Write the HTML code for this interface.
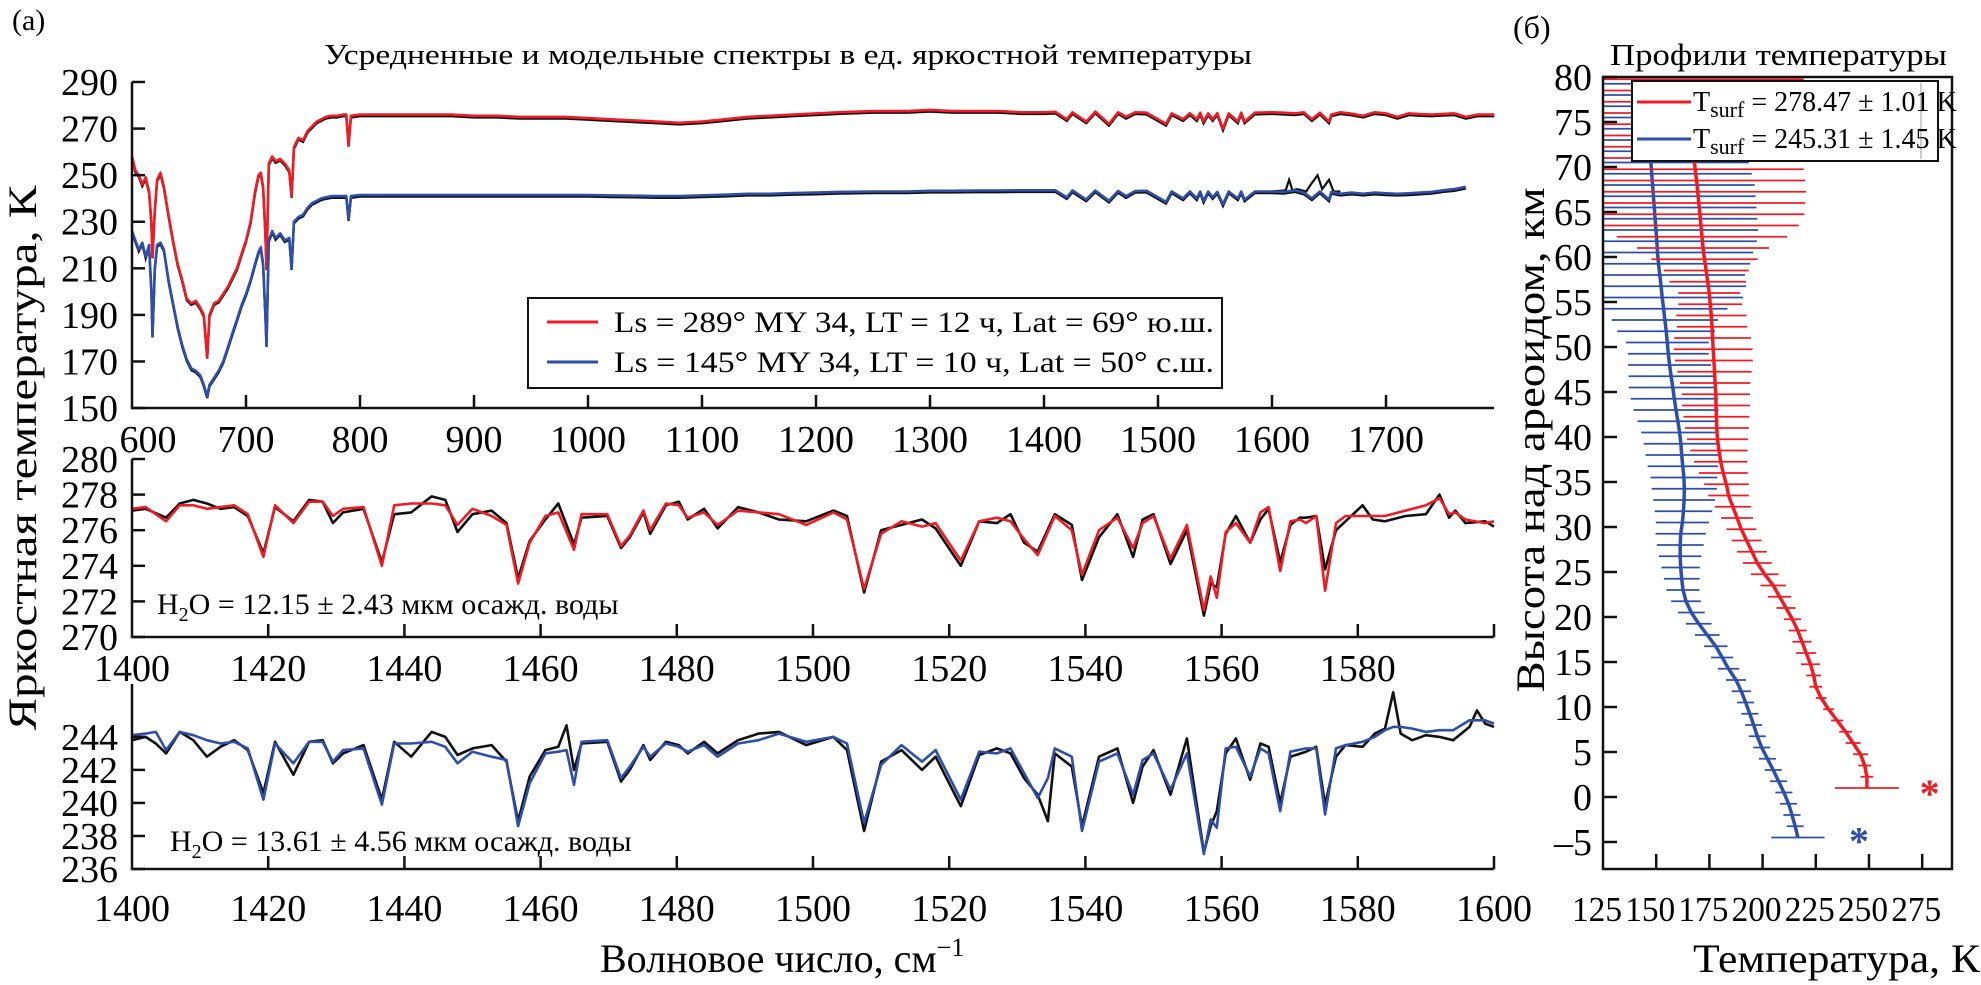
<!DOCTYPE html>
<html><head><meta charset="utf-8">
<style>
html,body{margin:0;padding:0;background:#fff;}
svg{display:block;font-family:"Liberation Serif",serif;}
</style></head>
<body>
<svg id="fig" width="1981" height="985" viewBox="0 0 1981 985" xmlns="http://www.w3.org/2000/svg">
<rect x="0" y="0" width="1981" height="985" fill="#fff"/>
<text x="12" y="30" font-size="30">(a)</text>
<text x="1513" y="38" font-size="32">(б)</text>
<text x="324" y="64" font-size="29" textLength="928" lengthAdjust="spacingAndGlyphs">Усредненные и модельные спектры в ед. яркостной температуры</text>
<text x="1610" y="65" font-size="31" textLength="337" lengthAdjust="spacingAndGlyphs">Профили температуры</text>
<text transform="translate(36,458) rotate(-90)" text-anchor="middle" font-size="40" textLength="545" lengthAdjust="spacingAndGlyphs">Яркостная температура, К</text>
<text x="600" y="972" font-size="40">Волновое число, см<tspan dy="-16" font-size="26">−1</tspan></text>
<text transform="translate(1544,440) rotate(-90)" text-anchor="middle" font-size="40" textLength="505" lengthAdjust="spacingAndGlyphs">Высота над ареоидом, км</text>
<text x="1693" y="972" font-size="40" textLength="287" lengthAdjust="spacingAndGlyphs">Температура, К</text>
<g id="plots"></g>
</svg>
<script>
// ---------- Top panel data ----------
const topRedWn = [600,603,606,609,612,615,617,618,620,622,625,628,632,636,640,644,648,652,656,660,663,666,668,672,676,680,684,688,692,696,700,704,708,711,713,715,717,718,720,723,726,730,734,738,740,742,746,750,754,758,762,766,770,775,780,785,788,790,792,800,820,840,860,880,900,920,940,960,980,1000,1020,1040,1060,1080,1100,1120,1140,1160,1180,1200,1220,1250,1280,1300,1320,1340,1360,1380,1400,1410,1420,1425,1437,1445,1457,1465,1472,1480,1490,1507,1512,1522,1528,1534,1537,1540,1544,1548,1552,1557,1562,1570,1573,1576,1585,1600,1610,1620,1628,1635,1642,1650,1652,1660,1670,1680,1690,1700,1710,1720,1730,1740,1750,1760,1770,1780,1795];
const topRedT = [258,252,250,246,249,243,230,215,235,248,251,245,233,222,212,205,197,195,196,193,190,172,190,195,196,199,202,206,210,216,222,230,243,250,251,245,225,210,255,258,256,257,255,252,241,262,266,265,269,271,273,274,275,275.5,275.5,276,276,263,275.5,276,276,276,276,276,275.5,275.5,275,275,275,274.5,274,273.5,273,272.5,273,274,275,275.5,276,276.5,277,277.5,277.5,278,277.5,277.5,277.5,277,277,277.2,274,277,273,277.3,272,277,275,277,276.8,272,276.5,274,276.6,274,276.8,273,276.5,274,276.6,270,276.5,273,276.8,273,276.8,277,276.8,276.5,277,274,276.8,273,276,277,276.4,275.5,277,276.5,275,276.5,276.2,276,276.3,276.5,275,276,276];
const topBlueWn = topRedWn;
const topBlueT = [226,222,218,221,215,220,200,181,210,220,221,218,205,195,185,177,171,167,166,164,160,155,160,163,166,170,176,182,188,194,199,205,212,217,219,212,190,177,222,226,223,225,222,223,210,230,232,233,236,238,239,240,240.5,241,241,241,241,231,241,241.5,241.5,241.5,241.5,241.5,241.5,241.5,241.5,241.5,241.5,241.5,241.3,241.2,241,241,241.3,241.6,242,242,242.3,242.5,242.8,243,243,243.3,243.3,243.4,243.4,243.5,243.5,243.5,240.5,243.4,239.5,243.4,239,243.2,241,243.2,243.3,238.5,243,240,243,240,243,239,243,240.5,242.8,237.5,243,240,243,239.5,243,243,242.8,243.5,242.5,240,243,239.5,242.8,242,242.5,242,242.5,242.2,242,242.2,242.5,242.8,243.5,244,245];
const topBlackWn = [1600,1612,1615,1618,1622,1630,1634,1640,1644,1650,1654,1660];
const topBlackBlueT = [243,243.5,248,243.5,244,243,246,250,244,248,243,243];
// ---------- Middle panel ----------
const midWn = [1400,1402,1405,1407,1409,1411,1413,1415,1417,1419.3,1421,1423.7,1426,1428,1429.5,1431,1434,1436.7,1438.5,1441,1444,1446,1447.8,1450,1452.8,1455,1456.7,1458.4,1460.7,1462.6,1464.9,1466,1469.8,1471.8,1473.1,1475.1,1476.1,1478.4,1480.3,1481.6,1484,1486,1489,1492,1495,1499,1503,1505,1507.5,1510,1513,1516,1518,1521.7,1524.4,1527,1529,1531,1533,1535.5,1538,1539.5,1542,1544.7,1547,1548.4,1550,1552.5,1554.9,1557.4,1558.4,1559.3,1560.6,1562.1,1564.2,1565.7,1566.9,1568.6,1570.1,1571.5,1572.4,1573.9,1575.2,1576.8,1578.2,1580.7,1582.2,1584,1587,1590,1592,1593.4,1594.3,1595.8,1598.7,1600];
const midModel = [277.2,277.3,276.5,277.4,277.4,277.2,277.3,277.4,276.9,274.5,277.4,276.4,277.6,277.6,276.8,277.2,277.3,274.0,277.4,277.5,277.5,277.4,276.3,277.2,276.8,276.3,273.0,275.3,276.8,277.0,274.9,276.9,276.9,275.1,275.7,277.1,276.0,277.5,277.4,276.7,277.0,276.3,277.1,277.0,276.9,276.3,277.0,276.6,272.7,275.8,276.5,276.2,276.4,274.3,276.5,276.7,276.5,275.5,274.6,276.8,276.0,273.5,276.0,276.7,275.0,276.4,276.8,274.4,276.3,271.5,273.4,272.2,275.9,276.4,275.3,277.0,277.3,273.7,276.5,276.6,276.4,276.8,272.6,276.4,276.8,276.8,276.8,276.8,277.1,277.4,277.8,276.9,277.0,276.6,276.4,276.5];
const midObs = [277.1,277.2,276.7,277.5,277.7,277.5,277.2,277.3,276.8,274.7,277.3,276.5,277.7,277.6,276.4,277.0,277.2,274.2,276.9,277.0,277.9,277.7,275.9,276.9,277.1,276.4,273.3,275.4,276.6,277.5,275.2,276.7,276.8,275.0,275.6,277.0,275.8,277.4,277.6,276.6,277.2,276.1,277.3,277.0,276.6,276.5,277.1,276.8,272.5,276.0,276.3,276.6,276.1,274.0,276.5,276.4,276.9,275.3,274.8,276.9,276.3,273.2,275.6,276.9,274.5,276.6,276.9,274.1,276.0,271.2,273.0,272.8,275.8,276.8,275.3,276.6,277.2,274.2,276.3,276.7,276.7,276.8,273.8,276.0,276.5,277.4,276.6,276.5,276.8,276.9,278.0,276.7,277.1,276.4,276.5,276.2];
const midTicksX = [1400,1420,1440,1460,1480,1500,1520,1540,1560,1580];
const midTicksY = [270,272,274,276,278,280];
// ---------- Bottom panel ----------
const botWn = [1400,1402,1403.5,1405,1407,1409,1411,1413,1415,1417,1419.3,1421,1423.7,1426,1428,1429.5,1431,1434,1436.7,1438.5,1441,1444,1446,1447.8,1450,1452.8,1455,1456.7,1458.4,1460.7,1462.6,1463.8,1464.9,1466,1469.8,1471.8,1473.1,1475.1,1476.1,1478.4,1480.3,1481.6,1484,1486,1489,1492,1495,1499,1503,1505,1507.5,1510,1513,1516,1518,1521.7,1524.4,1527,1529,1531,1533,1534.5,1535.5,1538,1539.5,1542,1544.7,1547,1548.4,1550,1552.5,1554.9,1557.4,1558.4,1559.3,1560.6,1562.1,1564.2,1565.7,1566.9,1568.6,1570.1,1572.4,1573.9,1575.2,1576.8,1578.2,1580.7,1582.5,1584,1585.2,1586.3,1588,1590,1592,1594,1596.4,1597.5,1598.7,1600];
const botModel = [244.1,244.2,244.3,243.2,244.3,244.1,243.8,243.6,243.7,243.3,240.2,243.6,242.4,243.7,243.7,242.5,243.2,243.3,239.9,243.6,243.6,243.7,243.4,242.4,243.1,242.8,242.6,238.6,241.2,243.0,243.1,243.2,241.1,243.7,243.8,241.5,242.2,243.4,242.8,243.6,243.4,243.1,243.5,242.8,243.6,243.8,244.2,243.7,244.0,243.6,238.8,242.3,243.5,242.5,243.2,240.2,243.1,243.0,243.3,241.8,240.3,241.5,243.3,242.8,238.3,242.5,243.0,240.5,242.6,243.0,240.8,243.0,236.9,239.0,238.5,243.3,243.4,241.6,243.3,243.0,239.5,243.1,243.3,243.3,239.3,243.3,243.5,243.7,244.0,244.4,244.6,244.6,244.5,244.3,244.4,244.4,245.0,245.0,245.0,244.8];
const botObs = [243.8,244.0,243.6,243.0,244.3,243.8,242.8,243.4,243.8,243.2,240.6,243.7,241.7,243.7,243.8,242.4,243.0,243.5,240.2,243.7,242.8,244.3,244.0,242.9,243.3,243.5,242.5,238.9,241.6,243.2,243.4,244.7,242.0,243.6,243.7,241.3,242.0,243.5,242.6,243.7,243.5,243.0,243.7,243.0,243.8,244.2,244.3,243.5,244.0,243.2,238.3,242.5,243.2,242.0,242.8,239.8,242.9,243.3,243.0,241.5,240.5,238.9,243.0,242.2,238.6,242.8,243.3,240.0,242.2,243.2,240.5,243.9,237.0,238.6,239.5,243.0,243.9,241.4,243.6,243.4,240.0,242.8,243.1,243.4,239.9,242.8,243.5,243.4,244.2,244.5,246.7,244.2,243.8,244.1,244.0,243.8,244.6,245.6,244.8,244.6];
const botTicksY = [236,238,240,242,244];
const topTicksX = [600,700,800,900,1000,1100,1200,1300,1400,1500,1600,1700];
const topTicksY = [150,170,190,210,230,250,270,290];
// ---------- Panel b profiles ----------
const redAlt = [1,2.25,3.5,4.75,6,7.25,8.5,9.75,11,12.25,13.5,14.75,16,17.25,18.5,19.75,21,22.25,23.5,24.75,26,27.25,28.5,29.75,31,32.25,33.5,34.75,36,37.25,38.5,39.75,41,42.25,43.5,44.75,46,47.25,48.5,49.75,51,52.25,53.5,54.75,56,57.25,58.5,59.75,61,62.25,63.5,64.75,66,67.25,68.5,69.75,71,72.25,73.5,74.75,76,77.25,78.5,79.75];
const redTemp = [249,249,248,246,242.5,239,235,231,227.5,225,224,222.5,220.5,218.5,216.5,214,211,208,205,201,197.5,195,192.5,190,188,186,184,183,181.5,180.3,179.5,178.8,178.5,178.3,178.1,178,177.7,177.4,177.1,176.8,176.5,176.2,175.9,175.4,174.9,174.2,173.5,172.7,172,171.5,171,170.6,170,169.5,169,168.3,167.8,167.3,166.8,166.3,165.8,165.3,164.8,164.3];
const redErr = [15,3,3,3.5,3.5,3,2.8,2.5,2.5,3,3.5,4.5,4.7,4.5,4.2,4,4.5,5.5,6,6.5,6.8,7,7,7,7.5,8.5,9.5,10.5,11.5,12.5,13.5,14.3,15,15.5,16,16,16.5,17.5,18.3,18.5,18,16.5,16.5,15,14.5,18,20,25,31,40,46,49,50,51,51,51,55,55,55,55,55,55,55,55];
const blueAlt = [-4.5,-3.25,-2,-0.75,0.5,1.75,3,4.25,5.5,6.75,8,9.25,10.5,11.75,13,14.25,15.5,16.75,18,19.25,20.5,21.75,23,24.25,25.5,26.75,28,29.25,30.5,31.75,33,34.25,35.5,36.75,38,39.25,40.5,41.75,43,44.25,45.5,46.75,48,49.25,50.5,51.75,53,54.25,55.5,56.75,58,59.25,60.5,61.75,63,64.25,65.5,66.75,68,69.25,70.5,71.75,73,74.25,75.5,76.75,78,79.25];
const blueTemp = [216.6,215.3,213.8,212.2,210,207.5,205,202.3,199.6,197.5,195.8,194,192,190,187.5,184,181,178,174,170,166.5,164,162.6,162,161.5,161.3,161.3,161.5,162.3,162.8,163.1,163.2,163,162.5,162,161.6,161,160.2,159.3,158.5,157.8,157,156.3,155.7,155.2,154.7,154.1,153.5,152.8,152.3,151.7,151.1,150.6,150.3,149.9,149.5,149.1,148.7,148.3,147.9,147.5,147.2,146.9,146.6,146.3,146,145.7,145.4];
const blueErr = [12.5,4,4,4,4,4,4,4,4,4,4,4,4,4.5,4.7,5,5.2,5.5,5.8,6,6.3,7,7.8,8.4,9,10,11,11.8,12.5,13.5,14.5,15.3,15.7,16.5,17,17.5,18,19,20,20.5,20.7,20,19.5,19,19.5,23,25,30,38,40,40,43,45,47,48,48,48,48,48,47,46,50,50,50,50,50,50,50];
const surfT = [278.47,245.31];
const surfAlt = [0.9,-4.4];
const profTicksX = [125,150,175,200,225,250,275];
const profTicksY = [-5,0,5,10,15,20,25,30,35,40,45,50,55,60,65,70,75,80];

const NS = "http://www.w3.org/2000/svg";
const G = document.getElementById('plots');
function mk(tag, attrs, parent){ const e=document.createElementNS(NS,tag); for(const k in attrs) e.setAttribute(k,attrs[k]); (parent||G).appendChild(e); return e; }
function txt(str, attrs, parent){ const e=mk('text',attrs,parent); e.textContent=str; return e; }
function poly(xs, ys, fx, fy){ return xs.map((v,i)=>fx(v).toFixed(1)+','+fy(ys[i]).toFixed(1)).join(' '); }
const RED="#ee1c25", BLUE="#2e4ea8", BLK="#111";
const TF = 38;

// ---------- top panel ----------
const tX = w => 132 + (w-600)*1.14;
const tY = t => 82 + (290-t)*2.329;
let g = mk('g',{});


let e = mk('polyline',{points:poly(topRedWn,topRedT.map(v=>v-0.7),tX,tY),fill:'none',stroke:BLK,'stroke-width':2.4},g);
 
e = mk('polyline',{points:poly(topBlueWn,topBlueT.map(v=>v-0.7),tX,tY),fill:'none',stroke:BLK,'stroke-width':2.4},g);
 
e = mk('polyline',{points:poly(topBlackWn,topBlackBlueT,tX,tY),fill:'none',stroke:BLK,'stroke-width':2.2},g);
 
e = mk('polyline',{points:poly(topRedWn,topRedT,tX,tY),fill:'none',stroke:RED,'stroke-width':2.6,'stroke-linejoin':'round'},g);
 
e = mk('polyline',{points:poly(topBlueWn,topBlueT,tX,tY),fill:'none',stroke:BLUE,'stroke-width':2.6,'stroke-linejoin':'round'},g);
 
mk('path',{d:'M132,82 V408 H1494',fill:'none',stroke:BLK,'stroke-width':2.5},g);
topTicksY.forEach(v=>{ mk('line',{x1:132,x2:145,y1:tY(v),y2:tY(v),stroke:BLK,'stroke-width':2.5},g);
  const t=txt(String(v),{x:118,y:tY(v)+13,'text-anchor':'end','font-size':TF},g);
    });
topTicksX.forEach(v=>{ if(v>600) mk('line',{x1:tX(v),x2:tX(v),y1:408,y2:395,stroke:BLK,'stroke-width':2.5},g);
  const t=txt(String(v),{x:tX(v)+(v===600?16:0),y:452,'text-anchor':'middle','font-size':TF},g);
    });
let lg = mk('g',{},g);
 
mk('rect',{x:528,y:298,width:694,height:90,fill:'#fff',stroke:BLK,'stroke-width':2},lg);
mk('line',{x1:547,x2:598,y1:322,y2:322,stroke:RED,'stroke-width':3},lg);
mk('line',{x1:547,x2:598,y1:362,y2:362,stroke:BLUE,'stroke-width':3},lg);
e=txt('Ls = 289° MY 34, LT = 12 ч, Lat = 69° ю.ш.',{x:614,y:332,'font-size':30,textLength:600,lengthAdjust:'spacingAndGlyphs'},lg);
 
e=txt('Ls = 145° MY 34, LT = 10 ч, Lat = 50° с.ш.',{x:614,y:372,'font-size':30,textLength:600,lengthAdjust:'spacingAndGlyphs'},lg);
 

// ---------- zoom panels ----------
const zX = w => 132 + (w-1400)*6.81;
function zoomPanel(name, wn, model, obs, col, y0, y1, yTop, yBot, ticksY, labelBase, h2oText, h2oY){
  const fy = t => yBot - (t-y0)*(yBot-yTop)/(y1-y0);
  const pg = mk('g',{});
  
  
  let l = mk('polyline',{points:poly(wn,obs,zX,fy),fill:'none',stroke:BLK,'stroke-width':2.6,'stroke-linejoin':'round'},pg);
   
  l = mk('polyline',{points:poly(wn,model,zX,fy),fill:'none',stroke:col,'stroke-width':2.6,'stroke-linejoin':'round'},pg);
   
  mk('path',{d:`M132,${yTop} V${yBot} H1494`,fill:'none',stroke:BLK,'stroke-width':2.5},pg);
  ticksY.forEach(v=>{ mk('line',{x1:132,x2:145,y1:fy(v),y2:fy(v),stroke:BLK,'stroke-width':2.5},pg);
    const t=txt(String(v),{x:118,y:fy(v)+13,'text-anchor':'end','font-size':TF},pg);
      });
  midTicksX.forEach(v=>{ if(v>1400) mk('line',{x1:zX(v),x2:zX(v),y1:yBot,y2:yBot-13,stroke:BLK,'stroke-width':2.5},pg);
    const t=txt(String(v),{x:zX(v),y:labelBase,'text-anchor':'middle','font-size':TF},pg);
      });
  mk('line',{x1:1494,x2:1494,y1:yBot,y2:yBot-13,stroke:BLK,'stroke-width':2.5},pg);
  const h=txt('',{x:h2oText,y:h2oY,'font-size':30},pg);
   
  return {pg,h};
}
let r = zoomPanel('spectra-zoom-south', midWn, midModel, midObs, RED, 270, 280, 459, 637, midTicksY, 681, 157, 614);
r.h.innerHTML = 'H<tspan font-size="20" dy="7">2</tspan><tspan dy="-7">O = 12.15 ± 2.43 мкм осажд. воды</tspan>';
r = zoomPanel('spectra-zoom-north', botWn, botModel, botObs, BLUE, 236, 247.2, 684, 869, botTicksY, 921, 170, 851);
r.h.innerHTML = 'H<tspan font-size="20" dy="7">2</tspan><tspan dy="-7">O = 13.61 ± 4.56 мкм осажд. воды</tspan>';
r = txt('1600',{x:1494,y:921,'text-anchor':'middle','font-size':TF});
 

// ---------- panel b ----------
const pL=1603, pR=1952, pT=77, pB=869;
const pX = t => pL + (t-125)*2.128;
const pY = z => 77 + (80-z)*9;
const bg = mk('g',{});


const clip = mk('clipPath',{id:'pclip'},bg); mk('rect',{x:pL,y:pT,width:pR-pL,height:pB-pT},clip);
const dg = mk('g',{'clip-path':'url(#pclip)'},bg);
function profile(alt,temp,err,col,name){
  alt.forEach((z,i)=>{ const b=mk('line',{x1:pX(temp[i]-err[i]),x2:pX(temp[i]+err[i]),y1:pY(z),y2:pY(z),stroke:col,'stroke-width':1.8},dg);
      });
  const l=mk('polyline',{points:poly(temp,alt,pX,pY),fill:'none',stroke:col,'stroke-width':3.5},dg);
   
}
profile(blueAlt,blueTemp,blueErr,BLUE,'profile-north');
profile(redAlt,redTemp,redErr,RED,'profile-south');
const scol=[RED,BLUE];
surfT.forEach((t,i)=>{ const s=txt('*',{x:pX(t),y:pY(surfAlt[i])+18,'text-anchor':'middle','font-size':40,'font-weight':'bold',fill:scol[i]},bg);
    });
mk('rect',{x:pL,y:pT,width:pR-pL,height:pB-pT,fill:'none',stroke:BLK,'stroke-width':2.5},bg);
profTicksY.forEach(v=>{ mk('line',{x1:pL,x2:pL+14,y1:pY(v),y2:pY(v),stroke:BLK,'stroke-width':2.5},bg);
  const t=txt(v<0?'–'+Math.abs(v):String(v),{x:1592,y:pY(v)+13,'text-anchor':'end','font-size':TF},bg);
    });
profTicksX.forEach(v=>{ if(v>125) mk('line',{x1:pX(v),x2:pX(v),y1:pB,y2:pB-15,stroke:BLK,'stroke-width':2.5},bg);
  const t=txt(String(v),{x:pX(v)-6,y:921,'text-anchor':'middle','font-size':35,textLength:50,lengthAdjust:'spacingAndGlyphs'},bg);
    });
const pl = mk('g',{},bg);
 
mk('rect',{x:1632,y:81,width:306,height:80,fill:'#fff',stroke:BLK,'stroke-width':2},pl);
mk('line',{x1:1921,x2:1921,y1:83,y2:159,stroke:'#999','stroke-width':1},pl);
mk('line',{x1:1637,x2:1691,y1:102,y2:102,stroke:RED,'stroke-width':3},pl);
mk('line',{x1:1637,x2:1691,y1:139,y2:139,stroke:BLUE,'stroke-width':3},pl);
let le=txt('',{x:1693,y:111,'font-size':28},pl);
le.innerHTML='T<tspan font-size="22" dy="6">surf</tspan><tspan dy="-6"> = 278.47 ± 1.01 K</tspan>';
 
le=txt('',{x:1693,y:148,'font-size':28},pl);
le.innerHTML='T<tspan font-size="22" dy="6">surf</tspan><tspan dy="-6"> = 245.31 ± 1.45 K</tspan>';
 
</script>
</body></html>
